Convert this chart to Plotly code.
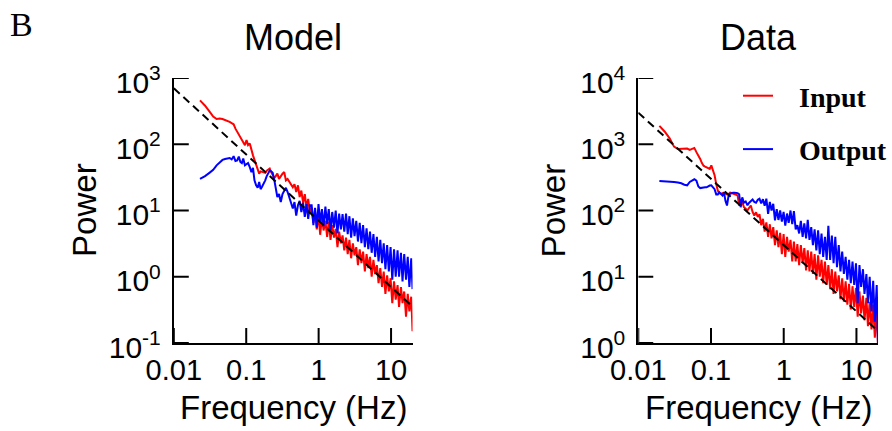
import plotly.graph_objects as go

# ---------------- data ----------------
freq = [
    0.0195, 0.023, 0.027, 0.031, 0.035, 0.039, 0.043, 0.047, 0.051, 0.055,
    0.059, 0.063, 0.067, 0.071, 0.075, 0.079, 0.083, 0.087, 0.091, 0.096,
    0.101, 0.106, 0.112, 0.118, 0.124, 0.130, 0.137, 0.144, 0.151, 0.158,
    0.166, 0.174, 0.183, 0.192, 0.201, 0.211, 0.221, 0.232, 0.244, 0.256,
    0.269, 0.284, 0.300, 0.317, 0.335, 0.353, 0.373, 0.394, 0.416, 0.440,
    0.464, 0.490, 0.518, 0.547, 0.577, 0.610, 0.644, 0.680, 0.718, 0.758,
    0.801, 0.846, 0.893, 0.943, 0.996, 1.05, 1.11, 1.17, 1.24, 1.31,
    1.38, 1.46, 1.54, 1.63, 1.72, 1.82, 1.92, 2.03, 2.14, 2.26,
    2.39, 2.52, 2.66, 2.81, 2.97, 3.13, 3.31, 3.49, 3.69, 3.90,
    4.11, 4.35, 4.59, 4.85, 5.12, 5.40, 5.71, 6.03, 6.37, 6.72,
    7.10, 7.50, 7.92, 8.36, 8.83, 9.32, 9.85, 10.4, 11.0, 11.6,
    12.3, 12.9, 13.7, 14.4, 15.2, 16.1, 17.0, 17.9, 19.0, 19.8,
]

model_input = [
    None, 460, 382, 313, 262, 240, 245, 240, 232, 228,
    218, 208, 200, 172, 155, 140, 132, 122, 110, 97,
    116, 97, 103, 80, 68, 58, 49, 42, 36, 39,
    38, 37, 37, 40, 41, 43, 38, 34, 31, 33,
    36, 30, 33, 36, 38, 28.5, 30, 27, 25, 22.5,
    25, 19, 24, 16, 20, 13, 17.7, 11, 15, 9,
    11, 6.5, 9.5, 5.2, 8.8, 4.3, 8, 5, 7, 4,
    6.8, 3.6, 6, 3.9, 5.3, 2.8, 4.8, 3.2, 4.2, 2.5,
    3.9, 2.2, 3.6, 1.9, 3.2, 2.1, 2.8, 1.5, 2.6, 1.6,
    2.4, 1.2, 2.2, 1.35, 2.0, 1.0, 1.8, 1.1, 1.5, 0.8,
    1.35, 0.7, 1.2, 0.55, 1.05, 0.6, 0.95, 0.4, 0.85, 0.45,
    0.75, 0.35, 0.7, 0.4, 0.6, 0.25, 0.55, 0.3, 0.5, 0.15,
]

model_output = [
    None, 30, 33, 37, 41, 48, 54, 58, 60, 61,
    62, 59, 66, 56, 57, 65, 54, 52, 61, 48,
    50, 52, 45, 38, 44, 28.5, 24, 22, 27, 21,
    23, 25, 28.5, 33, 37, 40, 39, 37, 29, 20,
    16, 17.7, 13.4, 17.7, 20, 22, 19, 16, 13, 10.7,
    13.4, 8.4, 12, 14, 9.5, 13, 8, 12.5, 7.5, 12,
    12, 6, 11, 5.5, 12.5, 6.5, 10.5, 5.8, 11.5, 6.2,
    10.5, 5, 9.5, 5.5, 10, 4.5, 9, 5.2, 8.8, 4.8,
    9, 4.4, 8.2, 3.9, 7.6, 4.1, 7, 3.4, 6.5, 3.2,
    6, 2.8, 5.4, 2.6, 4.8, 2.3, 4.4, 2.0, 4.0, 1.7,
    3.6, 1.6, 3.2, 1.3, 3.0, 1.2, 2.8, 0.9, 2.6, 1.0,
    2.5, 1.0, 2.3, 0.85, 2.2, 0.9, 2.0, 0.7, 1.9, 0.65,
]

data_input = [
    1890, 1560, 1230, 920, 850, 855, 860, 860, 820, 850,
    880, 760, 680, 600, 520, 475, 460, 450, 440, 425,
    480, 420, 340, 250, 200, 182, 179, 183, 186, 180,
    174, 176, 186, 184, 180, 179, 174, 169, 119, 141,
    135, 112, 106, 100, 110, 119, 95, 84, 94, 80,
    88, 60, 75, 48, 66, 40, 62, 38, 56, 30,
    50, 28, 46, 22, 44, 20, 40, 24, 36, 17,
    34, 17, 31, 15, 30, 16, 27, 12.5, 25, 12,
    24, 11, 22, 9, 21, 10, 18, 8, 17, 7.5,
    15, 6.5, 13, 5.5, 12, 6, 10.5, 4.6, 9.5, 4.2,
    8.5, 3.8, 7.8, 3.2, 7.2, 3.5, 6.8, 2.5, 6.0, 2.8,
    5.2, 2.2, 4.8, 1.8, 4.2, 1.6, 3.8, 1.2, 3.2, 0.9,
]

data_output = [
    278, 277, 275, 270, 265, 258, 245, 240, 270, 288,
    296, 282, 230, 218, 222, 225, 225, 224, 232, 238,
    240, 226, 210, 175, 175, 188, 176, 168, 188, 140,
    119, 165, 179, 185, 186, 186, 186, 183, 176, 112,
    158, 131, 137, 120, 131, 140, 147, 135, 131, 145,
    150, 128, 148, 118, 151, 89, 135, 100, 126, 71,
    105, 72, 100, 68, 95, 59, 90, 65, 100, 62,
    98, 52, 60, 45, 70, 40, 64, 38, 72, 36,
    56, 30, 52, 25, 50, 22, 45, 20, 40, 18,
    59, 18, 42, 16, 40, 14, 30, 12, 24, 11,
    20, 9, 18, 8, 17, 7.5, 16, 4, 15, 7,
    13, 5.5, 11, 4, 10, 3, 8.7, 2.1, 7.5, 0.9,
]

# 1/f reference fits (dashed)
fit_freq = [0.01, 20]
fit_model = [700, 0.35]
fit_data = [3000, 1.5]

panel_titles = ["Model", "Data"]
x_tickvals = [0.01, 0.1, 1, 10]
x_ticktext = ["0.01", "0.1", "1", "10"]
y1_tickvals = [0.1, 1, 10, 100, 1000]
y1_ticktext = ["10<sup>-1</sup>", "10<sup>0</sup>", "10<sup>1</sup>", "10<sup>2</sup>", "10<sup>3</sup>"]
y2_tickvals = [1, 10, 100, 1000, 10000]
y2_ticktext = ["10<sup>0</sup>", "10<sup>1</sup>", "10<sup>2</sup>", "10<sup>3</sup>", "10<sup>4</sup>"]

RED = "#ff0000"
BLUE = "#0000ff"
W, H = 892, 431
SANS = "Liberation Sans, Arial, sans-serif"
SERIF = "Liberation Serif, Times New Roman, serif"
NB = "\u00a0\u00a0\u00a0"
TICKLEN = 15

x_range = [-2, 1.2967]
y1_range = [-1, 3]
y2_range = [0, 4]
x_left = [174 / W, 413 / W]
x_right = [639 / W, 879 / W]
y_dom = [(H - 343) / H, (H - 78) / H]

fig = go.Figure()

# Model panel
fig.add_trace(go.Scatter(x=freq, y=model_input, mode="lines", line=dict(color=RED, width=2),
                         showlegend=False, xaxis="x", yaxis="y"))
fig.add_trace(go.Scatter(x=freq, y=model_output, mode="lines", line=dict(color=BLUE, width=2),
                         showlegend=False, xaxis="x", yaxis="y"))
fig.add_trace(go.Scatter(x=fit_freq, y=fit_model, mode="lines",
                         line=dict(color="black", width=2, dash="8px,5px"),
                         showlegend=False, xaxis="x", yaxis="y"))

# Data panel
fig.add_trace(go.Scatter(x=freq, y=data_input, mode="lines", line=dict(color=RED, width=2),
                         name=NB + "<b>Input</b>", legendgroup="a", showlegend=True,
                         xaxis="x2", yaxis="y2"))
fig.add_trace(go.Scatter(x=freq, y=data_output, mode="lines", line=dict(color=BLUE, width=2),
                         name=NB + "<b>Output</b>", legendgroup="b", showlegend=True,
                         xaxis="x2", yaxis="y2"))
fig.add_trace(go.Scatter(x=fit_freq, y=fit_data, mode="lines",
                         line=dict(color="black", width=2, dash="8px,5px"),
                         showlegend=False, xaxis="x2", yaxis="y2"))

# Inward tick marks: one short segment trace per tick, built from tick values and axis ranges
plot_h = (y_dom[1] - y_dom[0]) * H
for xa, ya, yr, yvals, dom in (("x", "y", y1_range, y1_tickvals, x_left),
                               ("x2", "y2", y2_range, y2_tickvals, x_right)):
    plot_w = (dom[1] - dom[0]) * W
    y_lo = 10 ** yr[0]
    y_hi = 10 ** (yr[0] + (yr[1] - yr[0]) * TICKLEN / plot_h)
    x_lo = 10 ** x_range[0]
    x_hi = 10 ** (x_range[0] + (x_range[1] - x_range[0]) * TICKLEN / plot_w)
    for v in x_tickvals:
        fig.add_trace(go.Scatter(x=[v, v], y=[y_lo, y_hi], mode="lines",
                                 line=dict(color="black", width=2, simplify=False),
                                 hoverinfo="skip", showlegend=False, cliponaxis=False,
                                 xaxis=xa, yaxis=ya))
    for v in yvals:
        fig.add_trace(go.Scatter(x=[x_lo, x_hi], y=[v, v], mode="lines",
                                 line=dict(color="black", width=2, simplify=False),
                                 hoverinfo="skip", showlegend=False, cliponaxis=False,
                                 xaxis=xa, yaxis=ya))

base = dict(type="log", showline=True, linewidth=2, linecolor="black", showgrid=False,
            zeroline=False, automargin=False, tickmode="array", ticks="")
xfont = dict(family=SANS, size=29, color="black")
yfont = dict(family=SANS, size=30, color="black")

fig.update_layout(
    width=W, height=H, autosize=False,
    margin=dict(l=0, r=0, t=0, b=0),
    paper_bgcolor="white", plot_bgcolor="white",
    xaxis=dict(domain=x_left, anchor="y", range=x_range, tickvals=x_tickvals,
               ticktext=x_ticktext, tickfont=xfont, **base),
    yaxis=dict(domain=y_dom, anchor="x", range=y1_range, tickvals=y1_tickvals,
               ticktext=y1_ticktext, tickfont=yfont, ticklabelshift=4,
               ticklabelstandoff=5, **base),
    xaxis2=dict(domain=x_right, anchor="y2", range=x_range, tickvals=x_tickvals,
                ticktext=x_ticktext, tickfont=xfont, **base),
    yaxis2=dict(domain=y_dom, anchor="x2", range=y2_range, tickvals=y2_tickvals,
                ticktext=y2_ticktext, tickfont=yfont, ticklabelshift=4,
                ticklabelstandoff=5, **base),
    legend=dict(x=739 / W, y=(H - 71) / H, xanchor="left", yanchor="top",
                font=dict(family=SERIF, size=28, color="black"),
                bgcolor="rgba(0,0,0,0)", borderwidth=0, itemwidth=30,
                traceorder="grouped", tracegroupgap=14),
)

ann_font_title = dict(family=SANS, size=36, color="black")
ann_font_axis = dict(family=SANS, size=33, color="black")
annotations = [
    dict(text=panel_titles[0], x=(174 + 413) / 2 / W, y=(H - 38) / H, font=ann_font_title),
    dict(text=panel_titles[1], x=759 / W, y=(H - 38) / H, font=ann_font_title),
    dict(text="Frequency (Hz)", x=294 / W, y=(H - 407) / H, font=ann_font_axis),
    dict(text="Frequency (Hz)", x=759.5 / W, y=(H - 407) / H, font=ann_font_axis),
    dict(text="Power", x=84 / W, y=(H - 210) / H, textangle=-90, font=ann_font_axis),
    dict(text="Power", x=554 / W, y=(H - 210) / H, textangle=-90, font=ann_font_axis),
    dict(text="B", x=22 / W, y=(H - 25) / H, font=dict(family=SERIF, size=34, color="black")),
]
for a in annotations:
    a.update(xref="paper", yref="paper", showarrow=False, xanchor="center", yanchor="middle")
fig.update_layout(annotations=annotations)

fig.write_html("out.html")
